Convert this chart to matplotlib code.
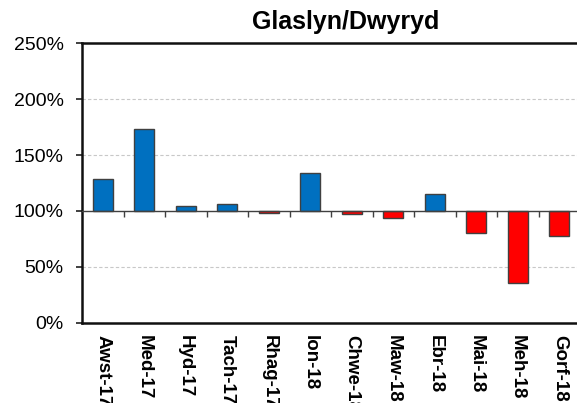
import matplotlib
matplotlib.use('Agg')
import matplotlib.pyplot as plt

plt.rcParams['font.family'] = ['Liberation Sans', 'DejaVu Sans']

months = ['Awst-17', 'Med-17', 'Hyd-17', 'Tach-17', 'Rhag-17', 'Ion-18',
          'Chwe-18', 'Maw-18', 'Ebr-18', 'Mai-18', 'Meh-18', 'Gorf-18']
# percent of long-term average
values = [129, 173, 104, 106, 98.5, 134, 97, 94, 115.5, 80, 35.5, 77.5]
baseline = 100

colors = ['#0070C0' if v >= baseline else '#FF0000' for v in values]
heights = [v - baseline for v in values]
x = list(range(len(months)))

fig = plt.figure(figsize=(5.77, 4.03), dpi=100)
ax = fig.add_axes([82/577, 80.3/403, 498/577, 279.4/403])

ax.bar(x, heights, bottom=baseline, width=0.48, color=colors,
       edgecolor='#404040', linewidth=1, zorder=3)

ax.set_xlim(-0.5, len(months) - 0.5)
ax.set_ylim(0, 250)
ax.set_yticks([0, 50, 100, 150, 200, 250])
ax.set_yticklabels([f'{t}%' for t in [0, 50, 100, 150, 200, 250]], fontsize=14)
for g in [50, 150, 200]:
    ax.axhline(g, color='#c8c8c8', linestyle=(0, (3, 2)), linewidth=0.8, zorder=1)
ax.tick_params(axis='y', length=4.3, width=1.2, pad=9, color='#202020')

ax.set_xticks(x)
ax.set_xticklabels(months, fontsize=13.5, fontweight='bold', rotation=-90)
ax.tick_params(axis='x', length=0, pad=9)

for s in ['left', 'top', 'bottom', 'right']:
    ax.spines[s].set_linewidth(1.8)
    ax.spines[s].set_color('#101010')

# category axis crossing at 100%
sec = ax.secondary_xaxis(baseline / 250)
sec.set_xticks([i + 0.5 for i in x[:-1]])
sec.tick_params(axis='x', direction='out', length=4, width=1, color='#404040', labelbottom=False)
sec.spines['bottom'].set_color('#404040')
sec.spines['bottom'].set_linewidth(1)
sec.set_zorder(4)

fig.text(346/577, 1 - 22/403, 'Glaslyn/Dwyryd', fontsize=18, fontweight='bold',
         ha='center', va='center')

fig.savefig('out.png', dpi=100)
